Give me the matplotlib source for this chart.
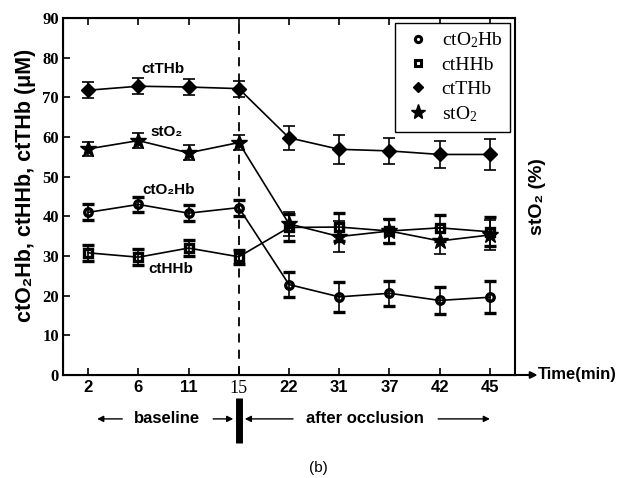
import matplotlib
matplotlib.use('Agg')
import matplotlib.pyplot as plt
import matplotlib.transforms as mtransforms
from matplotlib.lines import Line2D

plt.rcParams['mathtext.fontset'] = 'custom'
plt.rcParams['mathtext.rm'] = 'Liberation Serif'
plt.rcParams['mathtext.it'] = 'Liberation Serif:italic'

times = ['2', '6', '11', '15', '22', '31', '37', '42', '45']
ct_thb = [71.8, 72.8, 72.6, 72.2, 59.8, 56.9, 56.5, 55.6, 55.6]
ct_thb_err = [2.0, 2.0, 2.0, 2.0, 3.0, 3.7, 3.3, 3.3, 3.9]
st_o2 = [57.0, 59.1, 56.0, 58.6, 38.1, 34.9, 36.3, 33.8, 35.3]
st_o2_err = [1.8, 1.9, 1.9, 1.9, 3.0, 3.8, 3.0, 3.3, 3.9]
ct_o2hb = [41.0, 43.0, 40.8, 42.2, 22.8, 19.7, 20.6, 18.8, 19.6]
ct_o2hb_err = [2.0, 2.0, 2.0, 2.0, 3.2, 3.8, 3.2, 3.3, 4.0]
ct_hhb = [30.8, 29.7, 32.0, 29.8, 37.2, 37.3, 36.3, 37.1, 36.1]
ct_hhb_err = [2.0, 2.0, 2.0, 1.8, 3.4, 3.6, 3.1, 3.2, 3.7]

x = list(range(len(times)))

fig = plt.figure(figsize=(6.32, 4.78), dpi=100)
ax = fig.add_axes([0.0997, 0.2155, 0.7152, 0.7468])

eb = dict(color='black', lw=1.2, capsize=4, elinewidth=1.2, capthick=1.2)
ax.errorbar(x, ct_thb, yerr=ct_thb_err, marker='D', ms=7, mfc='black', mec='black', **eb)
ax.errorbar(x, st_o2, yerr=st_o2_err, marker='*', ms=12, mfc='black', mec='black', **eb)
ax.errorbar(x, ct_o2hb, yerr=ct_o2hb_err, marker='o', ms=5.4, mfc='none', mec='black', mew=2.4, **eb)
ax.errorbar(x, ct_hhb, yerr=ct_hhb_err, marker='s', ms=5.4, mfc='none', mec='black', mew=2.4, **eb)

ax.axvline(3, color='black', ls='--', lw=1.3, dashes=(5, 4))

ax.set_xlim(-0.5, 8.5)
ax.set_ylim(0, 90)
ax.set_xticks(x)
ax.set_xticklabels(times, fontfamily='Liberation Sans', fontweight='bold', fontsize=12)
lbl15 = ax.get_xticklabels()[3]
lbl15.set_fontfamily('Liberation Serif')
lbl15.set_fontweight('normal')
lbl15.set_fontsize(13)
ax.set_yticks(range(0, 91, 10))
for t in ax.get_yticklabels():
    t.set_fontfamily('Liberation Serif')
    t.set_fontweight('bold')
    t.set_fontsize(12)
ax.tick_params(direction='in', length=5, width=1.2, top=True, right=True)
ax.tick_params(axis='y', pad=3)
for s in ax.spines.values():
    s.set_linewidth(1.5)

ax.set_ylabel('ctO\u2082Hb, ctHHb, ctTHb (\u03bcM)', fontfamily=['Liberation Sans', 'DejaVu Sans'],
              fontweight='bold', fontsize=15.5)
ax.yaxis.set_label_coords(-0.059, 0.531)
ax2 = ax.twinx()
ax2.set_ylim(0, 90)
ax2.set_yticks([])
ax2.set_ylabel('stO\u2082 (%)', fontfamily=['Liberation Sans', 'DejaVu Sans'],
               fontweight='bold', fontsize=14, labelpad=10)
ax2.spines['right'].set_visible(False)

# series labels
sans = dict(fontfamily=['Liberation Sans', 'DejaVu Sans'], fontweight='bold', fontsize=11,
            ha='center', va='center')
ax.text(1.49, 77.1, 'ctTHb', **sans)
ax.text(1.57, 61.2, 'stO\u2082', **sans)
ax.text(1.6, 46.6, 'ctO\u2082Hb', **sans)
ax.text(1.65, 26.7, 'ctHHb', **sans)

# legend
handles = [
    Line2D([], [], ls='none', marker='o', ms=4.5, mfc='none', mec='black', mew=2.2),
    Line2D([], [], ls='none', marker='s', ms=4.5, mfc='none', mec='black', mew=2.2),
    Line2D([], [], ls='none', marker='D', ms=5, mfc='black', mec='black'),
    Line2D([], [], ls='none', marker='*', ms=11, mfc='black', mec='black'),
]
labels = ['ctO$_2$Hb', 'ctHHb', 'ctTHb', 'stO$_2$']
leg = ax.legend(handles, labels, loc='upper right', prop={'family': 'Liberation Serif', 'size': 14},
                fancybox=False, edgecolor='black', framealpha=1, borderaxespad=0.25,
                handletextpad=0.4, labelspacing=0.32, borderpad=0.4, handlelength=1.6)
leg.get_frame().set_linewidth(1.0)

# x axis arrow and label
ax.annotate('', xy=(1.05, 0), xytext=(1.0, 0), xycoords='axes fraction',
            arrowprops=dict(arrowstyle='-|>', color='black', lw=1.5, mutation_scale=10,
                            shrinkA=0, shrinkB=0), annotation_clip=False)
ax.text(1.05, 0, 'Time(min)', transform=ax.transAxes, ha='left', va='center',
        fontfamily='Liberation Sans', fontweight='bold', fontsize=12)

# baseline / after occlusion annotations
trans = mtransforms.blended_transform_factory(ax.transData, ax.transAxes)
arrow = dict(arrowstyle='-|>', color='black', lw=1.0, mutation_scale=9, shrinkA=0, shrinkB=0)
ax.annotate('', xy=(0.18, -0.123), xytext=(0.68, -0.123), xycoords=trans, arrowprops=arrow,
            annotation_clip=False)
ax.annotate('', xy=(2.89, -0.123), xytext=(2.49, -0.123), xycoords=trans, arrowprops=arrow,
            annotation_clip=False)
ax.annotate('', xy=(3.12, -0.123), xytext=(4.08, -0.123), xycoords=trans, arrowprops=arrow,
            annotation_clip=False)
ax.annotate('', xy=(8.0, -0.123), xytext=(6.97, -0.123), xycoords=trans, arrowprops=arrow,
            annotation_clip=False)
ax.plot([3, 3], [-0.064, -0.19], transform=trans, color='black', lw=5, clip_on=False,
        solid_capstyle='butt')
ax.text(1.57, -0.123, 'baseline', transform=trans, ha='center', va='center',
        fontfamily='Liberation Sans', fontweight='bold', fontsize=12)
ax.text(5.51, -0.123, 'after occlusion', transform=trans, ha='center', va='center',
        fontfamily='Liberation Sans', fontweight='bold', fontsize=12)

fig.text(0.503, 0.021, '(b)', ha='center', va='center', fontfamily='Liberation Sans', fontsize=11)

fig.savefig('out.png', dpi=100)
